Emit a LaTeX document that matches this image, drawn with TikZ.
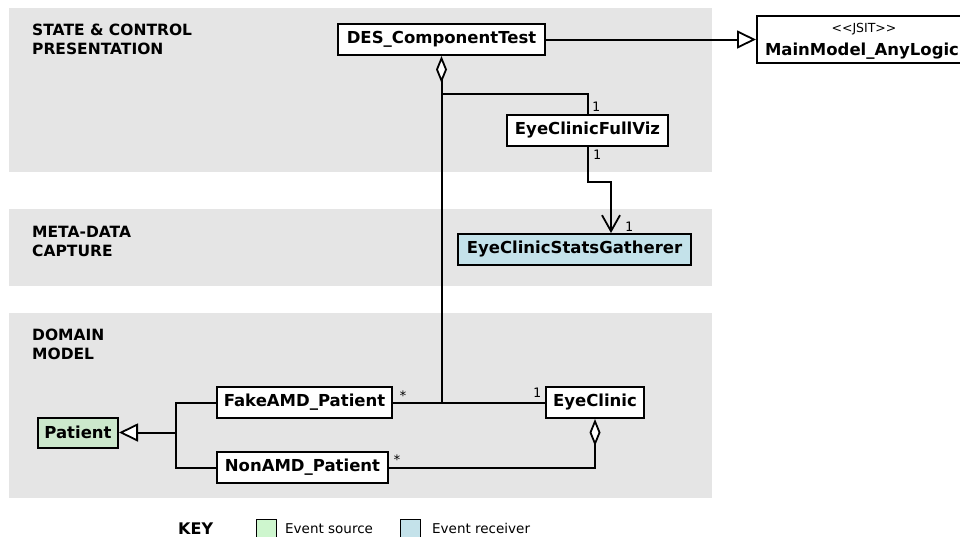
\documentclass[tikz,border=0pt]{standalone}
\usepackage{fontspec}
\setmainfont{DejaVu Sans}
\newfontfamily\monof{DejaVu Sans Mono}
\usetikzlibrary{arrows.meta}
\definecolor{bandgray}{RGB}{229,229,229}
\definecolor{srcgreen}{RGB}{204,232,204}
\definecolor{keygreen}{RGB}{206,246,206}
\definecolor{rcvblue}{RGB}{196,226,234}
\tikzset{
  cls/.style={draw, line width=2pt, fill=white, inner sep=0pt, minimum height=31pt,
    font=\bfseries\fontsize{16.5}{18}\selectfont},
  lane/.style={font=\bfseries\fontsize{15.5}{19}\selectfont, align=left, anchor=north west, inner sep=0pt},
  conn/.style={line width=2pt},
  gen/.style={conn, -{Triangle[open, length=19pt, width=18pt, fill=white, line width=1.8pt]}},
  aggstart/.style={conn, {Diamond[open, length=27pt, width=11pt, fill=white, line width=1.8pt]}-},
  aggend/.style={conn, -{Diamond[open, length=27pt, width=11pt, fill=white, line width=1.8pt]}},
  nav/.style={conn, -{Straight Barb[length=16pt, width=18pt, line width=1.8pt]}},
  mult/.style={font=\monof\fontsize{13}{14}\selectfont, inner sep=0pt, anchor=base},
  keytxt/.style={font=\fontsize{13.5}{15}\selectfont, inner sep=0pt, anchor=base west},
  keybox/.style={draw, line width=1.3pt, inner sep=0pt, minimum width=20pt, minimum height=22pt, anchor=north west}
}
\begin{document}
\begin{tikzpicture}[x=1pt, y=-1pt]
\useasboundingbox (0,0) rectangle (960,536);
\clip (0,0) rectangle (960,536);
% bands
\fill[bandgray] (9,8) rectangle (712,172);
\fill[bandgray] (9,209) rectangle (712,286);
\fill[bandgray] (9,313) rectangle (712,498);
\node[lane] (l1) at (32,24) {STATE \& CONTROL\\PRESENTATION};
\node[lane] (l2) at (32,226) {META-DATA\\CAPTURE};
\node[lane] (l3) at (32,329) {DOMAIN\\MODEL};
% classes
\node[cls, minimum width=207pt] (des) at (441.5,39.5) {DES\_ComponentTest};
\node[draw, line width=2pt, fill=white, minimum width=211pt, minimum height=47pt, inner sep=0pt] (mm) at (862.5,39.5) {};
\node[font=\fontsize{12.5}{13}\selectfont, inner sep=0pt] (mmst) at (864,29) {<{}<JSIT>{}>};
\node[font=\bfseries\fontsize{16.5}{18}\selectfont, inner sep=0pt, anchor=base] (mmname) at (862,55) {MainModel\_AnyLogic};
\node[cls, minimum width=161pt] (viz) at (587.5,130.5) {EyeClinicFullViz};
\node[cls, minimum width=233pt, fill=rcvblue] (stats) at (574.5,249.5) {EyeClinicStatsGatherer};
\node[cls, minimum width=175pt] (fake) at (304.5,402.5) {FakeAMD\_Patient};
\node[cls, minimum width=171pt] (non) at (302.5,467.5) {NonAMD\_Patient};
\node[cls, minimum width=98pt] (ec) at (595,402.5) {EyeClinic};
\node[cls, minimum width=80pt, minimum height=30pt, fill=srcgreen] (pat) at (78,432.5) {Patient};
% connectors
\draw[gen] (des.east) -- (mm.west);
\coordinate (jn) at (des.south |- fake.east);
\draw[aggstart] (des.south) -- (jn);
\coordinate (b1) at (441.5,94);
\draw[conn] (b1) -| (viz.north);
\coordinate (k1) at (611,182);
\draw[nav] (viz.south) |- (k1) -- (k1 |- stats.north);
\draw[conn] (fake.east) -- (ec.west);
\draw[aggend] (non.east) -| (ec.south);
\coordinate (gj) at (176,432.5);
\draw[gen] (gj) -- (pat.east);
\draw[conn] (fake.west) -| (gj) |- (non.west);
% multiplicities
\node[mult] (m1) at (596,111) {1};
\node[mult] (m2) at (597,159) {1};
\node[mult] (m3) at (629,231) {1};
\node[mult] (m4) at (403,400) {*};
\node[mult] (m5) at (537,397) {1};
\node[mult] (m6) at (397,464) {*};
% key
\node[font=\bfseries\fontsize{16}{17}\selectfont, inner sep=0pt, anchor=base west] (key) at (178,534) {KEY};
\node[keybox, fill=keygreen] (ks) at (256,519) {};
\node[keytxt] (kst) at (285,533) {Event source};
\node[keybox, fill=rcvblue] (kr) at (400,519) {};
\node[keytxt] (krt) at (432,533) {Event receiver};
\end{tikzpicture}
\end{document}
